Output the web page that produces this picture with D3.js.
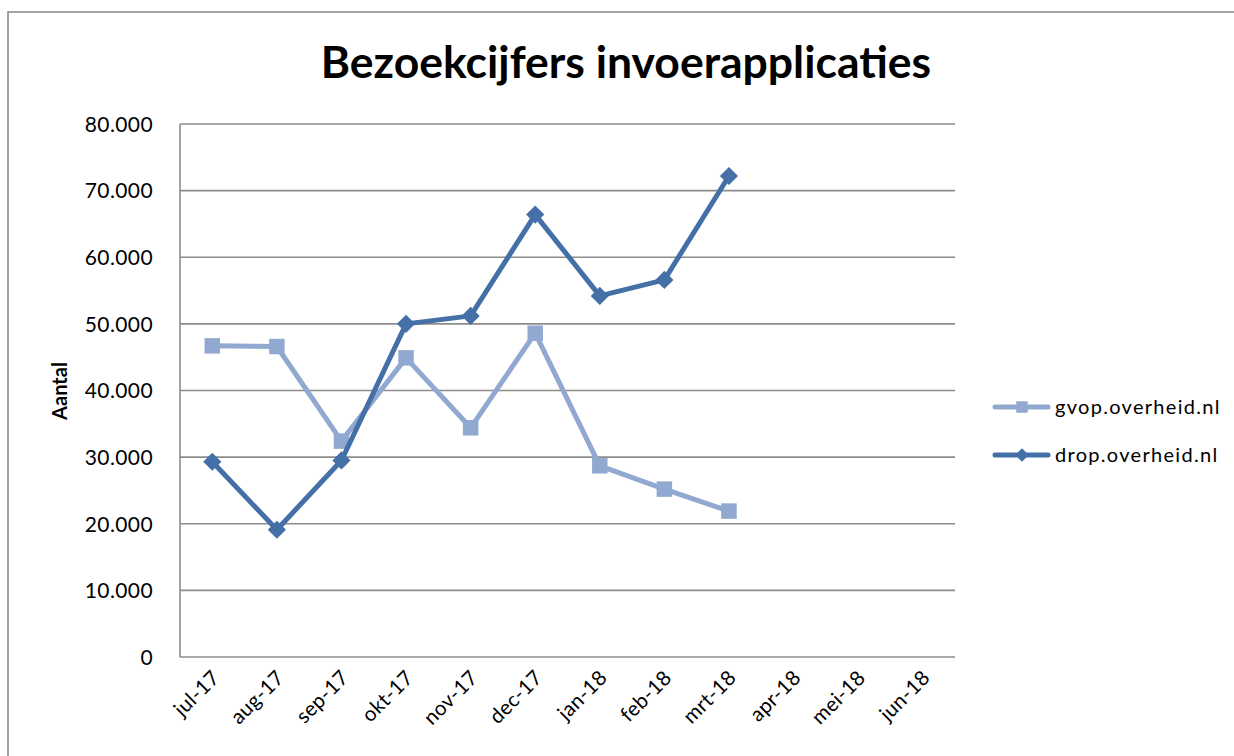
<!DOCTYPE html>
<html lang="nl">
<head>
    <meta charset="UTF-8">
    <title>Bezoekcijfers invoerapplicaties</title>
</head>
<style>
    body { margin: 0; background: #fff; }
    svg text { font-family: "Lato", "Liberation Sans", sans-serif; fill: #000; }
    .grid line { stroke: #8c8c8c; stroke-width: 1.6px; }
</style>
<body>
<script src="https://cdnjs.cloudflare.com/ajax/libs/d3/7.8.5/d3.min.js"></script>
<script>
    const width = 1234, height = 756;

    const months = ["jul-17", "aug-17", "sep-17", "okt-17", "nov-17", "dec-17",
        "jan-18", "feb-18", "mrt-18", "apr-18", "mei-18", "jun-18"];
    const gvop = [46700, 46600, 32400, 44900, 34400, 48600, 28700, 25200, 21900];
    const drop = [29300, 19100, 29500, 50000, 51200, 66400, 54200, 56600, 72200];
    const yTicks = [0, 10000, 20000, 30000, 40000, 50000, 60000, 70000, 80000];

    // diamond = square turned 45 degrees, like the spreadsheet marker
    const series = [
        {name: "gvop.overheid.nl", values: gvop, color: "#91a9d0", size: 240, turn: 0},
        {name: "drop.overheid.nl", values: drop, color: "#4470a7", size: 165, turn: 45}
    ];

    const nl = d3.formatLocale({decimal: ",", thousands: ".", grouping: [3], currency: ["€", ""]});
    const fmt = nl.format(",d");

    const plot = {left: 180, right: 955, top: 124, bottom: 657};

    const x = d3.scalePoint().domain(months).range([plot.left, plot.right]).padding(0.5);
    const y = d3.scaleLinear().domain([0, 80000]).range([plot.bottom, plot.top]);

    const svg = d3.select("body").append("svg")
        .attr("width", width)
        .attr("height", height);

    // chart frame (runs off the page right and bottom)
    svg.append("rect")
        .attr("x", 8).attr("y", 12)
        .attr("width", 1300).attr("height", 800)
        .attr("fill", "none")
        .attr("stroke", "#8c8c8c")
        .attr("stroke-width", 1.6);

    svg.append("text")
        .attr("x", 626).attr("y", 78)
        .attr("text-anchor", "middle")
        .style("font-size", "44.5px")
        .style("font-weight", "bold")
        .text("Bezoekcijfers invoerapplicaties");

    // gridlines
    svg.append("g").attr("class", "grid")
        .selectAll("line")
        .data(yTicks)
        .enter().append("line")
        .attr("x1", plot.left).attr("x2", plot.right)
        .attr("y1", d => y(d)).attr("y2", d => y(d));

    // left axis line
    svg.append("line")
        .attr("x1", plot.left).attr("x2", plot.left)
        .attr("y1", plot.top).attr("y2", plot.bottom)
        .attr("stroke", "#8c8c8c").attr("stroke-width", 1.6);

    const yAxis = svg.append("g")
        .attr("transform", "translate(" + plot.left + ",0)")
        .call(d3.axisLeft(y).tickValues(yTicks).tickFormat(fmt).tickSize(0).tickPadding(27));
    yAxis.select(".domain").remove();
    yAxis.selectAll("text")
        .style("font-family", "Lato, 'Liberation Sans', sans-serif")
        .style("font-size", "21px")
        .style("letter-spacing", "0.4px")
        .attr("dy", "0.35em");

    const xAxis = svg.append("g")
        .attr("transform", "translate(0," + plot.bottom + ")")
        .call(d3.axisBottom(x).tickSize(0).tickPadding(0));
    xAxis.select(".domain").remove();
    xAxis.selectAll("text")
        .style("font-family", "Lato, 'Liberation Sans', sans-serif")
        .style("font-size", "20.5px")
        .style("letter-spacing", "0.3px")
        .attr("text-anchor", "end")
        .attr("dy", null)
        .attr("y", 0)
        .attr("transform", "translate(8,22) rotate(-45)");

    svg.append("text")
        .attr("transform", "translate(67,391) rotate(-90)")
        .attr("text-anchor", "middle")
        .style("font-size", "20px")
        .style("font-weight", "bold")
        .text("Aantal");

    const line = d3.line()
        .x((d, i) => x(months[i]))
        .y(d => y(d));

    series.forEach(function (s) {
        svg.append("path")
            .datum(s.values)
            .attr("d", line)
            .attr("fill", "none")
            .attr("stroke", s.color)
            .attr("stroke-width", 5)
            .attr("stroke-linejoin", "round");

        svg.append("g")
            .selectAll("path")
            .data(s.values)
            .enter().append("path")
            .attr("d", d3.symbol().type(d3.symbolSquare).size(s.size))
            .attr("transform", (d, i) => "translate(" + x(months[i]) + "," + y(d) + ") rotate(" + s.turn + ")")
            .attr("fill", s.color);
    });

    // legend
    const legend = svg.append("g")
        .selectAll("g")
        .data(series)
        .enter().append("g")
        .attr("transform", (d, i) => "translate(995," + (407 + i * 48) + ")");

    legend.append("line")
        .attr("x1", 0).attr("x2", 53)
        .attr("stroke", d => d.color)
        .attr("stroke-width", 5)
        .attr("stroke-linecap", "round");

    legend.append("path")
        .attr("d", d => d3.symbol().type(d3.symbolSquare).size(d.size * 0.55)())
        .attr("transform", d => "translate(27,0) rotate(" + d.turn + ")")
        .attr("fill", d => d.color);

    legend.append("text")
        .attr("x", 60)
        .attr("dy", "0.35em")
        .style("font-size", "20px")
        .style("letter-spacing", "1.3px")
        .text(d => d.name);
</script>
</body>
</html>
